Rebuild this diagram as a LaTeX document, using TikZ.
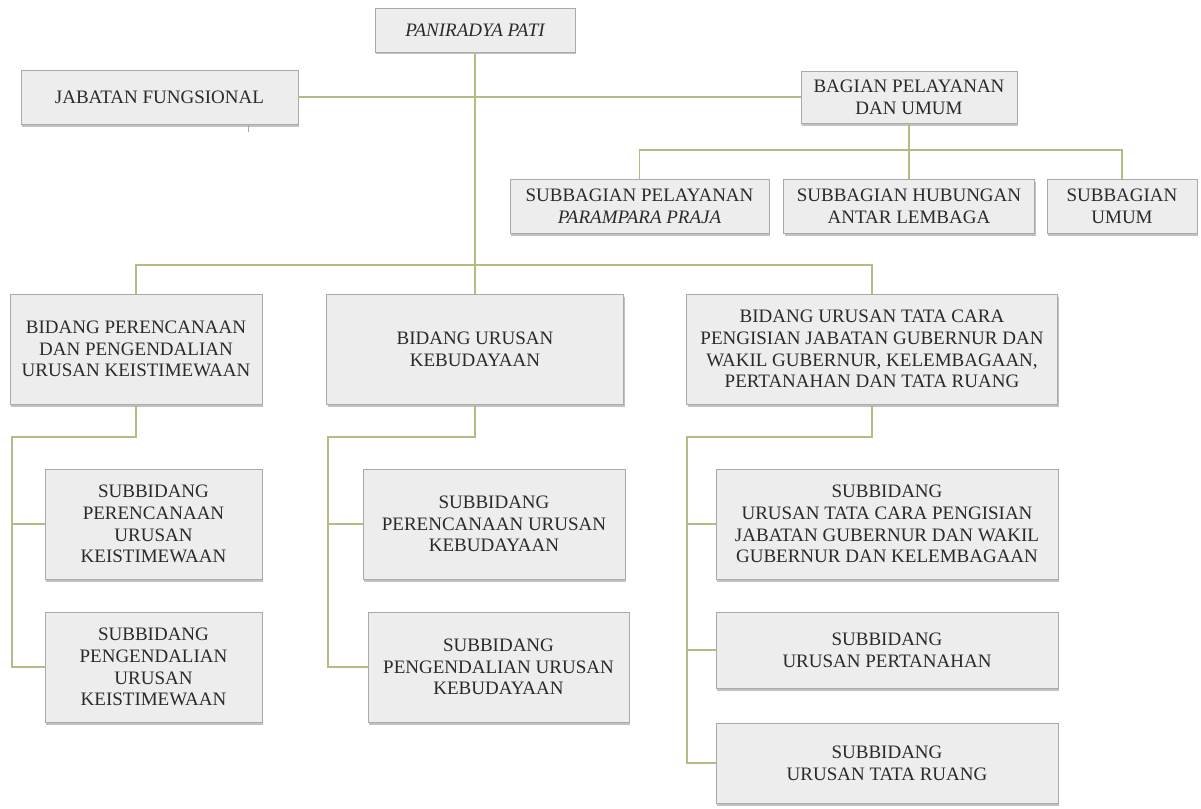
\documentclass[tikz,border=0pt]{standalone}
\usepackage{fontspec}
\setmainfont{Liberation Serif}
\usetikzlibrary{shadows}
\definecolor{boxfill}{RGB}{237,237,237}
\definecolor{boxdraw}{RGB}{170,170,170}
\definecolor{linecol}{RGB}{180,188,132}
\definecolor{txt}{RGB}{42,42,42}
\tikzset{
  box/.style={rectangle, draw=boxdraw, fill=boxfill, line width=0.8pt,
    text=txt, align=center, inner sep=2pt,
    font=\fontsize{19}{21.7}\selectfont,
    drop shadow={shadow xshift=1pt, shadow yshift=-2.5pt, fill=black!40, opacity=0.6}},
  conn/.style={draw=linecol, line width=1.7pt},
}
\begin{document}
\begin{tikzpicture}[x=1pt,y=-1pt]
\path[use as bounding box, fill=white] (0,0) rectangle (1201,808);

% top level
\node[box, minimum width=200pt, minimum height=44pt] (pati) at (475,30) {\itshape PANIRADYA PATI};
\node[box, minimum width=277pt, minimum height=54pt] (jab) at (159.5,97) {JABATAN FUNGSIONAL};
\node[box, minimum width=216pt, minimum height=52pt] (bag) at (909,97) {BAGIAN PELAYANAN\\DAN UMUM};

% subbagian
\node[box, minimum width=259pt, minimum height=54pt] (sb1) at (639.5,206) {SUBBAGIAN PELAYANAN\\\itshape PARAMPARA PRAJA};
\node[box, minimum width=251pt, minimum height=54pt] (sb2) at (909,206) {SUBBAGIAN HUBUNGAN\\ANTAR LEMBAGA};
\node[box, minimum width=150pt, minimum height=54pt] (sb3) at (1122,206) {SUBBAGIAN\\UMUM};

% bidang
\node[box, minimum width=252pt, minimum height=110pt] (bid1) at (136,349) {BIDANG PERENCANAAN\\DAN PENGENDALIAN\\URUSAN KEISTIMEWAAN};
\node[box, minimum width=297pt, minimum height=110pt] (bid2) at (475,349) {BIDANG URUSAN\\KEBUDAYAAN};
\node[box, minimum width=371pt, minimum height=110pt] (bid3) at (872,349) {BIDANG URUSAN TATA CARA\\PENGISIAN JABATAN GUBERNUR DAN\\WAKIL GUBERNUR, KELEMBAGAAN,\\PERTANAHAN DAN TATA RUANG};

% subbidang left
\node[box, minimum width=217pt, minimum height=110pt] (s11) at (153.5,524) {SUBBIDANG\\PERENCANAAN\\URUSAN\\KEISTIMEWAAN};
\node[box, minimum width=217pt, minimum height=110pt] (s12) at (153.5,667) {SUBBIDANG\\PENGENDALIAN\\URUSAN\\KEISTIMEWAAN};

% subbidang middle
\node[box, minimum width=262pt, minimum height=110pt] (s21) at (494,524) {SUBBIDANG\\PERENCANAAN URUSAN\\KEBUDAYAAN};
\node[box, minimum width=261pt, minimum height=110pt] (s22) at (498.5,667) {SUBBIDANG\\PENGENDALIAN URUSAN\\KEBUDAYAAN};

% subbidang right
\node[box, minimum width=342pt, minimum height=110pt] (s31) at (887,524) {SUBBIDANG\\URUSAN TATA CARA PENGISIAN\\JABATAN GUBERNUR DAN WAKIL\\GUBERNUR DAN KELEMBAGAAN};
\node[box, minimum width=342pt, minimum height=76pt] (s32) at (887,650) {SUBBIDANG\\URUSAN PERTANAHAN};
\node[box, minimum width=342pt, minimum height=80pt] (s33) at (887,763) {SUBBIDANG\\URUSAN TATA RUANG};

% bus and spine coordinates
\coordinate (busA) at (640,150);
\coordinate (busB) at (136,265);
\coordinate (v1) at (12,437);
\coordinate (v2) at (328,437);
\coordinate (v3) at (687,437);

% connectors
\draw[conn] (pati.south) -- (bid2.north);
\draw[conn] (jab.east) -- (bag.west);
\draw[conn] (bag.south) -- (sb2.north);
\draw[conn] (sb1.north) -- (sb1.north |- busA) -| (sb3.north);
\draw[conn] (bid1.north) -- (busB) -| (bid3.north);

\draw[conn] (bid1.south) |- (v1) -- (v1 |- s12.west) -- (s12.west);
\draw[conn] (s11.west) -- (v1 |- s11.west);

\draw[conn] (bid2.south) |- (v2) -- (v2 |- s22.west) -- (s22.west);
\draw[conn] (s21.west) -- (v2 |- s21.west);

\draw[conn] (bid3.south) |- (v3) -- (v3 |- s33.west) -- (s33.west);
\draw[conn] (s31.west) -- (v3 |- s31.west);
\draw[conn] (s32.west) -- (v3 |- s32.west);

% small tick below Jabatan Fungsional
\coordinate (tick) at (248,132);
\draw[boxdraw, line width=1pt] (jab.south -| tick) -- (tick);
\end{tikzpicture}
\end{document}
